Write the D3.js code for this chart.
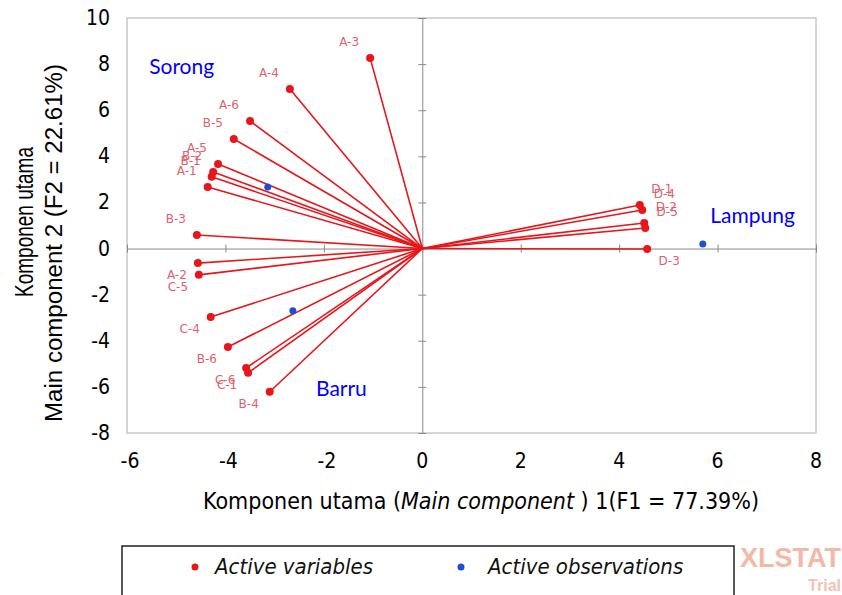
<!DOCTYPE html>
<html>
<head>
<meta charset="utf-8">
<script src="https://cdn.jsdelivr.net/npm/d3@7"></script>
<style>
  body { margin: 0; background: #fff; }
  text { font-family: "DejaVu Sans Condensed", "Liberation Sans", sans-serif; }
</style>
</head>
<body>
<div id="chart"></div>
<script>
// PCA biplot, F1 x F2
const varNames = ["A-3", "A-4", "A-6", "B-5", "A-5", "B-2", "B-1", "A-1", "B-3",
                  "A-2", "C-5", "C-4", "B-6", "C-6", "C-1", "B-4",
                  "D-1", "D-4", "D-2", "D-5", "D-3"];
const varF1 = [-1.06, -2.69, -3.50, -3.83, -4.15, -4.25, -4.28, -4.36, -4.58,
               -4.56, -4.54, -4.30, -3.95, -3.58, -3.54, -3.10,
               4.42, 4.47, 4.51, 4.53, 4.57];
const varF2 = [8.27, 6.92, 5.53, 4.75, 3.67, 3.32, 3.11, 2.67, 0.59,
               -0.63, -1.14, -2.97, -4.27, -5.18, -5.39, -6.21,
               1.89, 1.67, 1.11, 0.89, -0.02];

const obsNames = ["Sorong", "Barru", "Lampung"];
const obsF1 = [-3.14, -2.63, 5.70];
const obsF2 = [2.67, -2.70, 0.20];
// where the observation names sit (data units, left/baseline)
const obsLabelF1 = [-5.55, -2.16, 5.85];
const obsLabelF2 = [7.57, -6.39, 1.11];

const xTicks = [-6, -4, -2, 0, 2, 4, 6, 8];
const yTicks = [-8, -6, -4, -2, 0, 2, 4, 6, 8, 10];

const xTitle = ["Komponen utama (", "Main component", " ) 1(F1 =  77.39%)"];
const yTitle1 = "Komponen utama";
const yTitle2 = "Main component  2 (F2 =  22.61%)";

const W = 842, H = 595;
const plot = {l: 127, r: 816, t: 18, b: 433};

const vars = varNames.map((n, i) => ({name: n, x: varF1[i], y: varF2[i]}));
const obs = obsNames.map((n, i) => ({name: n, x: obsF1[i], y: obsF2[i], lx: obsLabelF1[i], ly: obsLabelF2[i]}));

const x = d3.scaleLinear().domain([-6, 8]).range([plot.l, plot.r]);
const y = d3.scaleLinear().domain([-8, 10]).range([plot.b, plot.t]);

const svg = d3.select("#chart").append("svg")
    .attr("width", W).attr("height", H)
    .attr("viewBox", `0 0 ${W} ${H}`);

// frame
svg.append("rect")
    .attr("x", plot.l).attr("y", plot.t)
    .attr("width", plot.r - plot.l).attr("height", plot.b - plot.t)
    .attr("fill", "none").attr("stroke", "#c8c8c8").attr("stroke-width", 1.5);

// zero lines with ticks
const gx = svg.append("g").attr("transform", `translate(0,${y(0)})`)
    .call(d3.axisBottom(x).tickValues(xTicks).tickSizeInner(4).tickSizeOuter(0).tickFormat(""));
const gy = svg.append("g").attr("transform", `translate(${x(0)},0)`)
    .call(d3.axisLeft(y).tickValues(yTicks).tickSizeInner(4).tickSizeOuter(0).tickFormat(""));
[gx, gy].forEach(g => {
    g.select(".domain").attr("stroke", "#8a8a8a");
    g.selectAll(".tick line").attr("stroke", "#8a8a8a");
});
gx.selectAll(".tick line").attr("y1", -4);
gy.selectAll(".tick line").attr("x1", 4);

// tick labels outside the frame
svg.append("g").selectAll("text")
    .data(xTicks).join("text")
    .attr("x", d => x(d) + (d < 0 ? 3 : 0)).attr("y", 468)
    .attr("text-anchor", "middle")
    .attr("font-size", 21)
    .text(d => d);
svg.append("g").selectAll("text")
    .data(yTicks).join("text")
    .attr("x", 110).attr("y", d => y(d) + 7)
    .attr("text-anchor", "end")
    .attr("font-size", 21)
    .text(d => d);

// variable vectors
const red = "#e8161b";
svg.append("g").selectAll("line")
    .data(vars).join("line")
    .attr("x1", x(0)).attr("y1", y(0))
    .attr("x2", d => x(d.x)).attr("y2", d => y(d.y))
    .attr("stroke", red).attr("stroke-width", 1.6);
svg.append("g").selectAll("circle")
    .data(vars).join("circle")
    .attr("cx", d => x(d.x)).attr("cy", d => y(d.y))
    .attr("r", 4).attr("fill", red);
svg.append("g").selectAll("text")
    .data(vars).join("text")
    .attr("x", d => x(d.x) + (d.x < 0 ? -21 : 22))
    .attr("y", d => y(d.y) + (d.y > 0.1 ? -12 : 16))
    .attr("text-anchor", "middle")
    .style("font-family", "'DejaVu Sans', sans-serif")
    .attr("font-size", 12)
    .attr("fill", "#e0606c")
    .text(d => d.name);

// observations
const blue = "#1d4fd1";
svg.append("g").selectAll("circle")
    .data(obs).join("circle")
    .attr("cx", d => x(d.x)).attr("cy", d => y(d.y))
    .attr("r", 3.5).attr("fill", blue);
svg.append("g").selectAll("text")
    .data(obs).join("text")
    .attr("x", d => x(d.lx)).attr("y", d => y(d.ly))
    .style("font-family", "Lato, sans-serif")
    .attr("font-size", 21)
    .attr("fill", "#0000ff")
    .text(d => d.name);

// axis titles
const xt = svg.append("text")
    .attr("x", 481).attr("y", 509)
    .attr("text-anchor", "middle")
    .attr("font-size", 23);
xt.selectAll("tspan").data(xTitle).join("tspan")
    .attr("font-style", (d, i) => i === 1 ? "italic" : null)
    .text(d => d);

svg.append("text")
    .attr("transform", "translate(33,222) rotate(-90)")
    .attr("text-anchor", "middle")
    .style("font-family", "'Liberation Sans', Arial, sans-serif")
    .style("font-size", "25px")
    .attr("textLength", 150).attr("lengthAdjust", "spacingAndGlyphs")
    .text(yTitle1);
svg.append("text")
    .attr("transform", "translate(62,243) rotate(-90)")
    .attr("text-anchor", "middle")
    .style("font-family", "'Liberation Sans', Arial, sans-serif")
    .style("font-size", "23px")
    .attr("textLength", 358).attr("lengthAdjust", "spacingAndGlyphs")
    .text(yTitle2);

// legend
const lg = svg.append("g");
lg.append("rect")
    .attr("x", 122).attr("y", 546).attr("width", 612).attr("height", 60)
    .attr("fill", "none").attr("stroke", "#222").attr("stroke-width", 1.5);
const legendItems = [{label: "Active variables", color: red, cx: 195, gap: 20},
                     {label: "Active observations", color: blue, cx: 461, gap: 27}];
const li = lg.selectAll("g").data(legendItems).join("g");
li.append("circle").attr("cx", d => d.cx).attr("cy", 567).attr("r", 3.5).attr("fill", d => d.color);
li.append("text").attr("x", d => d.cx + d.gap).attr("y", 574)
    .attr("font-size", 22).attr("font-style", "italic").attr("fill", "#111")
    .text(d => d.label);

// watermark
svg.append("text").attr("x", 841).attr("y", 567).attr("text-anchor", "end")
    .style("font-family", "'Liberation Sans', Arial, sans-serif")
    .attr("font-weight", "bold").attr("font-size", 27).attr("fill", "#f3b9a6")
    .text("XLSTAT");
svg.append("text").attr("x", 841).attr("y", 591).attr("text-anchor", "end")
    .style("font-family", "'Liberation Sans', Arial, sans-serif")
    .attr("font-weight", "bold").attr("font-size", 16).attr("fill", "#f0c4b4")
    .text("Trial");
</script>
</body>
</html>
